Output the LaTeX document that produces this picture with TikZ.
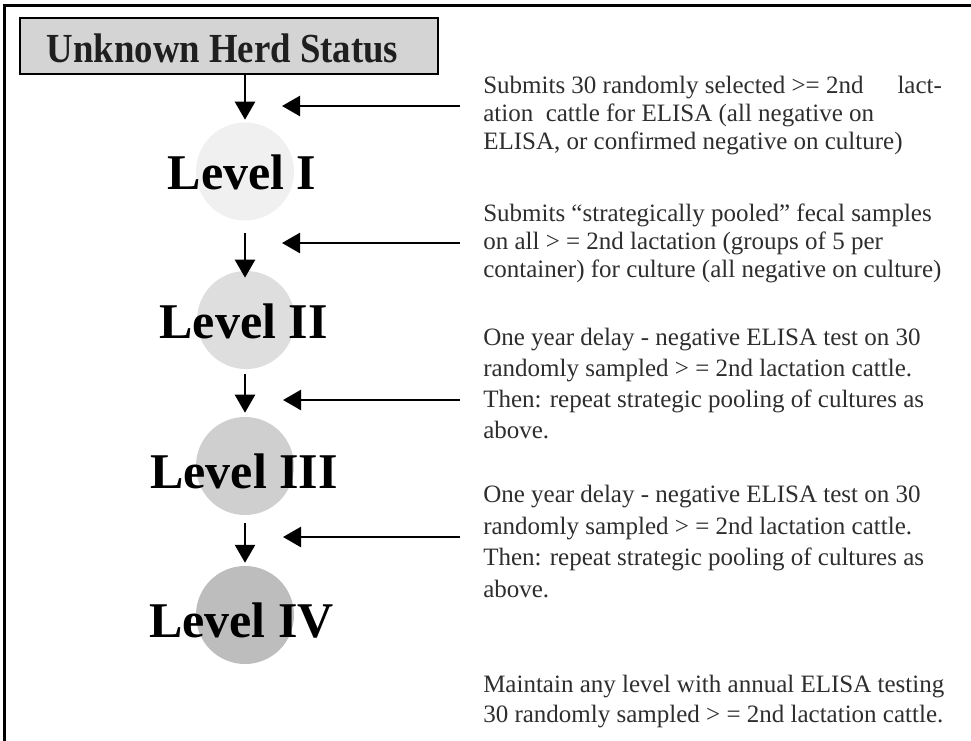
\documentclass[tikz,border=0pt]{standalone}
\usepackage{fontspec}
\setmainfont{Liberation Serif}
\newfontfamily\hdrfont[FakeStretch=0.89]{Liberation Serif}
\usetikzlibrary{arrows.meta}
\tikzset{
  px/.style={x=0.75pt,y=-0.75pt},
  flowarrow/.style={line width=1.9pt,-{Triangle[length=13.5pt,width=15pt]}},
  lvcircle/.style={circle,inner sep=0pt,minimum size=73.5pt},
  lvlabel/.style={anchor=base,inner sep=0pt,font=\fontsize{37.5pt}{40pt}\selectfont\bfseries},
  bodytext/.style={anchor=north west,inner sep=0pt,align=left,text=black!82},
  hdrbox/.style={draw=black,line width=1.5pt,fill=black!17,minimum width=313.5pt,minimum height=42pt,inner sep=0pt},
  hdrtext/.style={anchor=base,inner sep=0pt,font=\hdrfont\fontsize{31pt}{34pt}\selectfont\bfseries, text=black!88}
}
\begin{document}
\begin{tikzpicture}[px]
\useasboundingbox (0,0) rectangle (971,740);
\fill[white] (0,0) rectangle (971,740);
% frame (left and top edges visible)
\draw[line width=2.25pt] (4.5,745) -- (4.5,5) -- (975,5);

\node[hdrbox] (hdr) at (229,46) {};
\node[hdrtext] (hdrlabel) at (222.5,62) {Unknown Herd Status};

\node[lvcircle,fill=black!6]  (c1) at (245,171.5) {};
\node[lvcircle,fill=black!13] (c2) at (246,320) {};
\node[lvcircle,fill=black!19] (c3) at (245,466) {};
\node[lvcircle,fill=black!26] (c4) at (245,615) {};

\node[lvlabel] (l1) at (242,189) {Level I};
\node[lvlabel] (l2) at (243.5,338) {Level II};
\node[lvlabel] (l3) at (244,488) {Level III};
\node[lvlabel] (l4) at (241.5,637) {Level IV};

\draw[flowarrow,shorten >=1.9pt] (hdr.south -| c1) -- (c1.north);
\draw[flowarrow,shorten <=9.4pt,shorten >=-5.2pt] (c1.south) -- (c2.north -| c1);
\draw[flowarrow,shorten <=3.8pt,shorten >=3pt] (c2.south -| c1) -- (c3.north);
\draw[flowarrow,shorten <=6pt,shorten >=2.2pt] (c3.south) -- (c4.north);

\coordinate (r1) at (460,106); \coordinate (t1) at (282,106);
\coordinate (r2) at (460,243); \coordinate (t2) at (282,243);
\coordinate (r3) at (460,400); \coordinate (t3) at (283,400);
\coordinate (r4) at (460,537); \coordinate (t4) at (283,537);
\draw[flowarrow] (r1) -- (t1);
\draw[flowarrow] (r2) -- (t2);
\draw[flowarrow] (r3) -- (t3);
\draw[flowarrow] (r4) -- (t4);

\node[bodytext,font=\fontsize{18.75pt}{21pt}\selectfont] (b1) at (483,76)
 {\hbox to 344pt{Submits 30 randomly selected >= 2nd\hfill lact-}\\
  ation\ \ cattle for ELISA (all negative on\\
  ELISA, or confirmed negative on culture)};
\node[bodytext,font=\fontsize{18.75pt}{21pt}\selectfont] (b2) at (483,204)
 {Submits “strategically pooled” fecal samples\\
  on all > = 2nd lactation (groups of 5 per\\
  container) for culture (all negative on culture)};
\node[bodytext,font=\fontsize{18.75pt}{23.25pt}\selectfont] (b3) at (483,328)
 {One year delay - negative ELISA test on 30\\
  randomly sampled > = 2nd lactation cattle.\\
  Then: repeat strategic pooling of cultures as\\
  above.};
\node[bodytext,font=\fontsize{18.75pt}{23.6pt}\selectfont] (b4) at (483,485)
 {One year delay - negative ELISA test on 30\\
  randomly sampled > = 2nd lactation cattle.\\
  Then: repeat strategic pooling of cultures as\\
  above.};
\node[bodytext,font=\fontsize{18.75pt}{22.5pt}\selectfont] (b5) at (483,675)
 {Maintain any level with annual ELISA testing\\
  30 randomly sampled > = 2nd lactation cattle.};
\end{tikzpicture}
\end{document}
